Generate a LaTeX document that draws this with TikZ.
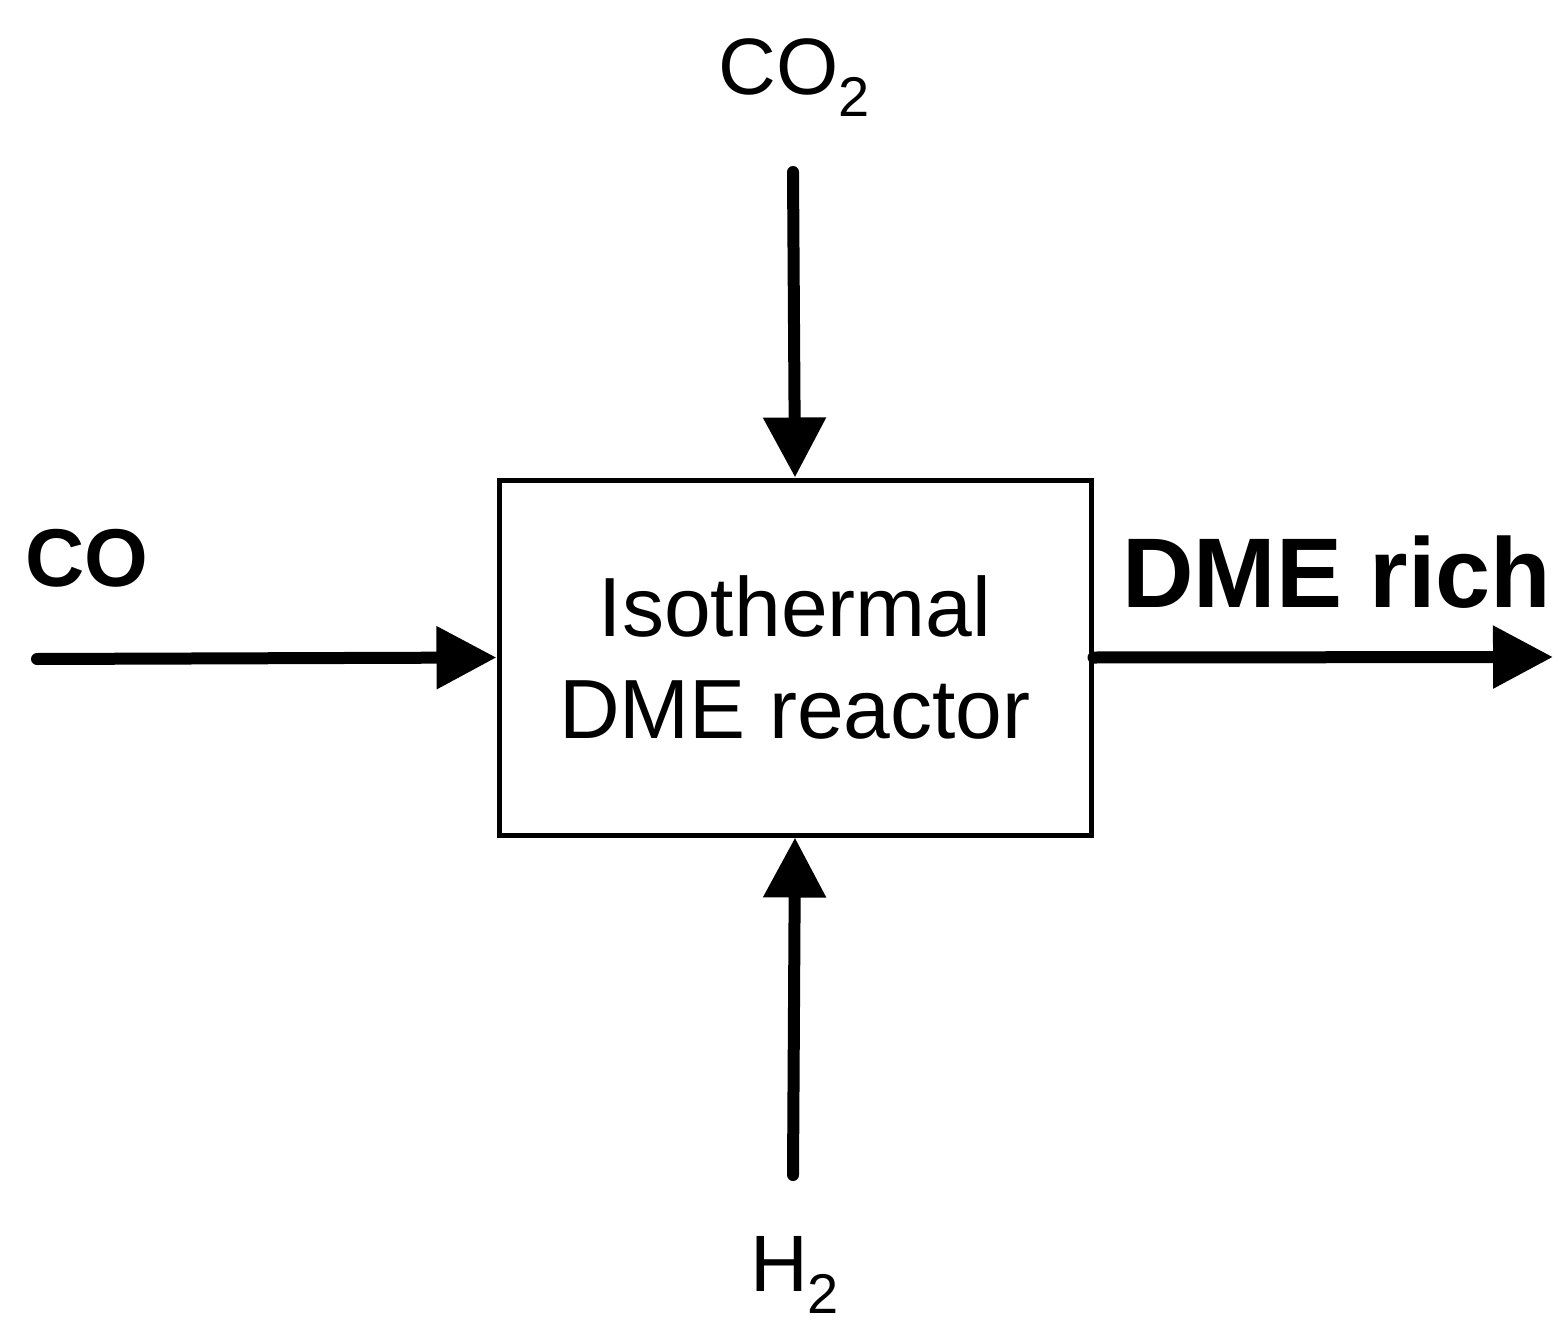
\documentclass[tikz,border=0pt]{standalone}
\usepackage{fontspec}
\setmainfont{Liberation Sans}
\usetikzlibrary{arrows.meta}
\begin{document}
\begin{tikzpicture}[x=0.5pt,y=-0.5pt,
  flow/.style={line width=6pt,line cap=round,-{Triangle[length=30pt,width=30pt]}},
  lab/.style={inner sep=0pt,font=\fontsize{40pt}{46pt}\selectfont},
  blab/.style={inner sep=0pt,font=\bfseries\fontsize{41pt}{48pt}\selectfont}]
\useasboundingbox (0,0) rectangle (1565,1338);
\node[draw,line width=2.5pt,minimum width=296pt,minimum height=177.5pt,inner sep=0pt,align=center,
  font=\fontsize{42pt}{51pt}\selectfont] (box) at (795,657.5) {Isothermal\\DME reactor};
\coordinate (t) at (793,172);
\coordinate (l) at (37,659);
\coordinate (r) at (1553,657);
\coordinate (b) at (793,1175);
\draw[flow] (t) -- (box.north);
\draw[flow] (l) -- (box.west);
\draw[flow] (box.east) -- (r);
\draw[flow] (b) -- (box.south);
\node[lab] (co2) at (795,78) {CO\textsubscript{2}};
\node[lab] (h2) at (795,1275) {H\textsubscript{2}};
\node[blab] (co) at (87,558) {CO};
\node[blab,font=\bfseries\fontsize{49.5pt}{56pt}\selectfont] (dme) at (1337,572) {DME rich};
\end{tikzpicture}
\end{document}
